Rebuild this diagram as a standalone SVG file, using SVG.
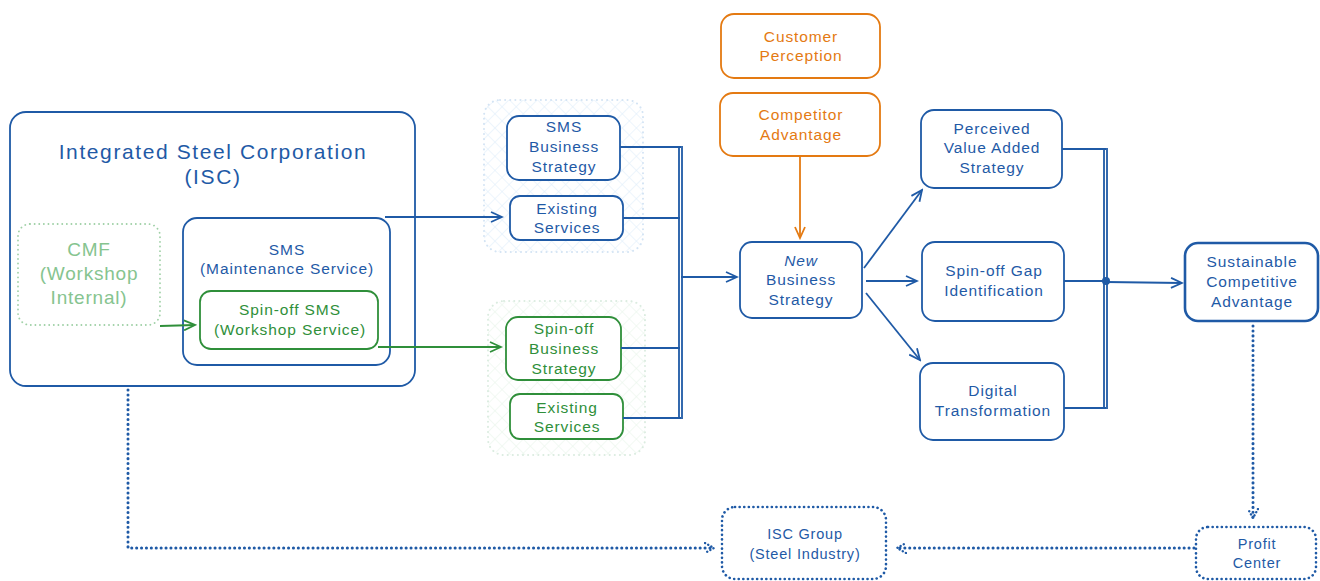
<svg xmlns="http://www.w3.org/2000/svg" width="1320" height="581" viewBox="0 0 1320 581">
<style>
text{font-family:"Liberation Sans","Open Sans",sans-serif;text-anchor:middle;}
.b{fill:#1f5aa6;}
.g{fill:#2f8f3a;}
.lg{fill:#86c48f;}
.o{fill:#e47a12;}
.nb{fill:#ffffff;stroke:#1f5aa6;stroke-width:1.8;}
.ng{fill:#ffffff;stroke:#2f8f3a;stroke-width:1.8;}
.no{fill:#ffffff;stroke:#e47a12;stroke-width:1.8;}
.cl{stroke:#1f5aa6;stroke-width:1.8;fill:none;}
.cg{stroke:#2f8f3a;stroke-width:1.8;fill:none;}
.co{stroke:#e47a12;stroke-width:1.8;fill:none;}
.dot{stroke:#1f5aa6;stroke-width:3;fill:none;stroke-dasharray:0.1 4.8;stroke-linecap:round;}
.t15{font-size:15.5px;letter-spacing:0.9px;}
.t14{font-size:14.5px;letter-spacing:0.8px;}
.tt{font-size:21px;letter-spacing:1.6px;}
</style>
<defs>
<marker id="ab" markerWidth="14" markerHeight="12" refX="12" refY="6" orient="auto" markerUnits="userSpaceOnUse"><path d="M1,1 L12,6 L1,11" fill="none" stroke="#1f5aa6" stroke-width="1.8"/></marker>
<marker id="ag" markerWidth="14" markerHeight="12" refX="12" refY="6" orient="auto" markerUnits="userSpaceOnUse"><path d="M1,1 L12,6 L1,11" fill="none" stroke="#2f8f3a" stroke-width="1.8"/></marker>
<marker id="ao" markerWidth="14" markerHeight="12" refX="12" refY="6" orient="auto" markerUnits="userSpaceOnUse"><path d="M1,1 L12,6 L1,11" fill="none" stroke="#e47a12" stroke-width="1.8"/></marker>
<marker id="ad" markerWidth="14" markerHeight="12" refX="10" refY="6" orient="auto" markerUnits="userSpaceOnUse"><path d="M1,1 L10,6 L1,11" fill="none" stroke="#1f5aa6" stroke-width="2.4" stroke-dasharray="0.1 3.5" stroke-linecap="round"/></marker>
<pattern id="hb" width="10" height="10" patternUnits="userSpaceOnUse" patternTransform="rotate(45)"><path d="M0,0 L0,10 M0,0 L10,0" stroke="#dcebf9" stroke-width="1"/></pattern>
<pattern id="hg" width="10" height="10" patternUnits="userSpaceOnUse" patternTransform="rotate(45)"><path d="M0,0 L0,10 M0,0 L10,0" stroke="#e6f3e8" stroke-width="1"/></pattern>
</defs>

<g id="isc">
<rect x="10" y="112" width="405" height="274" rx="16" class="nb"/>
<text x="213" y="159" class="b tt">Integrated Steel Corporation</text>
<text x="213" y="184" class="b tt">(ISC)</text>
</g>
<g id="cmf">
<rect x="18" y="224" width="142" height="101" rx="12" fill="#ffffff" stroke="#9fd0a6" stroke-width="1.8" stroke-dasharray="0.1 4.5" stroke-linecap="round"/>
<text x="89" y="256" class="lg" font-size="19" letter-spacing="0.8">CMF</text>
<text x="89" y="280" class="lg" font-size="19" letter-spacing="0.8">(Workshop</text>
<text x="89" y="304" class="lg" font-size="19" letter-spacing="0.8">Internal)</text>
</g>
<g id="sms">
<rect x="183" y="218" width="207" height="147" rx="14" class="nb"/>
<text x="287" y="255" class="b t15">SMS</text>
<text x="287" y="274" class="b t15">(Maintenance Service)</text>
</g>
<g id="spinoff-sms">
<rect x="200" y="291" width="178" height="58" rx="11" class="ng"/>
<text x="290" y="315" class="g t15">Spin-off SMS</text>
<text x="290" y="335" class="g t15">(Workshop Service)</text>
</g>

<g id="cluster-sms">
<rect x="484" y="100" width="159" height="152" rx="16" fill="url(#hb)" stroke="#d4e4f4" stroke-width="2" stroke-dasharray="0.1 5" stroke-linecap="round"/>
</g>
<g id="sms-business-strategy">
<rect x="507" y="116" width="113" height="64" rx="12" class="nb"/>
<text x="564" y="132" class="b t15">SMS</text>
<text x="564" y="152" class="b t15">Business</text>
<text x="564" y="172" class="b t15">Strategy</text>
</g>
<g id="existing-services-1">
<rect x="510" y="196" width="113" height="44" rx="10" class="nb"/>
<text x="567" y="214" class="b t15">Existing</text>
<text x="567" y="233" class="b t15">Services</text>
</g>

<g id="cluster-spinoff">
<rect x="488" y="301" width="157" height="154" rx="16" fill="url(#hg)" stroke="#dbece0" stroke-width="2" stroke-dasharray="0.1 5" stroke-linecap="round"/>
</g>
<g id="spinoff-business-strategy">
<rect x="506" y="317" width="115" height="63" rx="12" class="ng"/>
<text x="564" y="334" class="g t15">Spin-off</text>
<text x="564" y="354" class="g t15">Business</text>
<text x="564" y="374" class="g t15">Strategy</text>
</g>
<g id="existing-services-2">
<rect x="510" y="394" width="113" height="45" rx="10" class="ng"/>
<text x="567" y="413" class="g t15">Existing</text>
<text x="567" y="432" class="g t15">Services</text>
</g>

<g id="customer-perception">
<rect x="721" y="14" width="159" height="64" rx="13" class="no"/>
<text x="801" y="42" class="o t15">Customer</text>
<text x="801" y="61" class="o t15">Perception</text>
</g>
<g id="competitor-advantage">
<rect x="720" y="93" width="160" height="63" rx="13" class="no"/>
<text x="801" y="120" class="o t15">Competitor</text>
<text x="801" y="140" class="o t15">Advantage</text>
</g>
<g id="new-business-strategy">
<rect x="740" y="242" width="122" height="76" rx="12" class="nb"/>
<text x="801" y="266" class="b t15" font-style="italic">New</text>
<text x="801" y="285" class="b t15">Business</text>
<text x="801" y="305" class="b t15">Strategy</text>
</g>

<g id="perceived-value">
<rect x="921" y="110" width="141" height="78" rx="13" class="nb"/>
<text x="992" y="134" class="b t15">Perceived</text>
<text x="992" y="153" class="b t15">Value Added</text>
<text x="992" y="173" class="b t15">Strategy</text>
</g>
<g id="spinoff-gap">
<rect x="922" y="242" width="142" height="79" rx="13" class="nb"/>
<text x="994" y="276" class="b t15">Spin-off Gap</text>
<text x="994" y="296" class="b t15">Identification</text>
</g>
<g id="digital-transformation">
<rect x="920" y="363" width="144" height="77" rx="13" class="nb"/>
<text x="993" y="396" class="b t15">Digital</text>
<text x="993" y="416" class="b t15">Transformation</text>
</g>
<g id="sustainable">
<rect x="1185" y="243" width="133" height="78" rx="13" fill="#ffffff" stroke="#1f5aa6" stroke-width="2.6"/>
<text x="1252" y="267" class="b t15">Sustainable</text>
<text x="1252" y="287" class="b t15">Competitive</text>
<text x="1252" y="307" class="b t15">Advantage</text>
</g>

<g id="isc-group">
<rect x="722" y="507" width="164" height="72" rx="13" fill="#ffffff" stroke="#1f5aa6" stroke-width="2.6" stroke-dasharray="0.1 4.5" stroke-linecap="round"/>
<text x="805" y="539" class="b t14">ISC Group</text>
<text x="805" y="559" class="b t14">(Steel Industry)</text>
</g>
<g id="profit-center">
<rect x="1196" y="527" width="120" height="52" rx="12" fill="#ffffff" stroke="#1f5aa6" stroke-width="2.6" stroke-dasharray="0.1 4.5" stroke-linecap="round"/>
<text x="1257" y="549" class="b t14">Profit</text>
<text x="1257" y="568" class="b t14">Center</text>
</g>

<g id="connectors">
<path d="M160,326 L195,325" class="cg" marker-end="url(#ag)"/>
<path d="M385,217 L502,217" class="cl" marker-end="url(#ab)"/>
<path d="M378,347 L501,347" class="cg" marker-end="url(#ag)"/>
<path d="M620,147 L681,147 M623,218 L680,218 M621,348 L680,348 M623,418 L681,418" class="cl"/>
<path d="M679,146 L679,419 M682,146 L682,419" class="cl" stroke-width="1.4"/>
<path d="M681,277 L737,277" class="cl" marker-end="url(#ab)"/>
<path d="M800,157 L800,238" class="co" marker-end="url(#ao)"/>
<path d="M864,268 L922,190" class="cl" marker-end="url(#ab)"/>
<path d="M866,281 L917,281" class="cl" marker-end="url(#ab)"/>
<path d="M866,293 L920,360" class="cl" marker-end="url(#ab)"/>
<path d="M1062,149 L1106,149 M1064,281 L1106,281 M1064,408 L1106,408" class="cl"/>
<path d="M1104,148 L1104,409 M1107,148 L1107,409" class="cl" stroke-width="1.4"/>
<circle cx="1106" cy="281" r="4" fill="#1f5aa6"/>
<path d="M1106,282 L1182,283" class="cl" marker-end="url(#ab)"/>
<path d="M1253,326 L1253,518" class="dot" marker-end="url(#ad)"/>
<path d="M1194,548 L897,548" class="dot" marker-end="url(#ad)"/>
<path d="M128,390 L128,548 L714,548" class="dot" marker-end="url(#ad)"/>
</g>
</svg>
